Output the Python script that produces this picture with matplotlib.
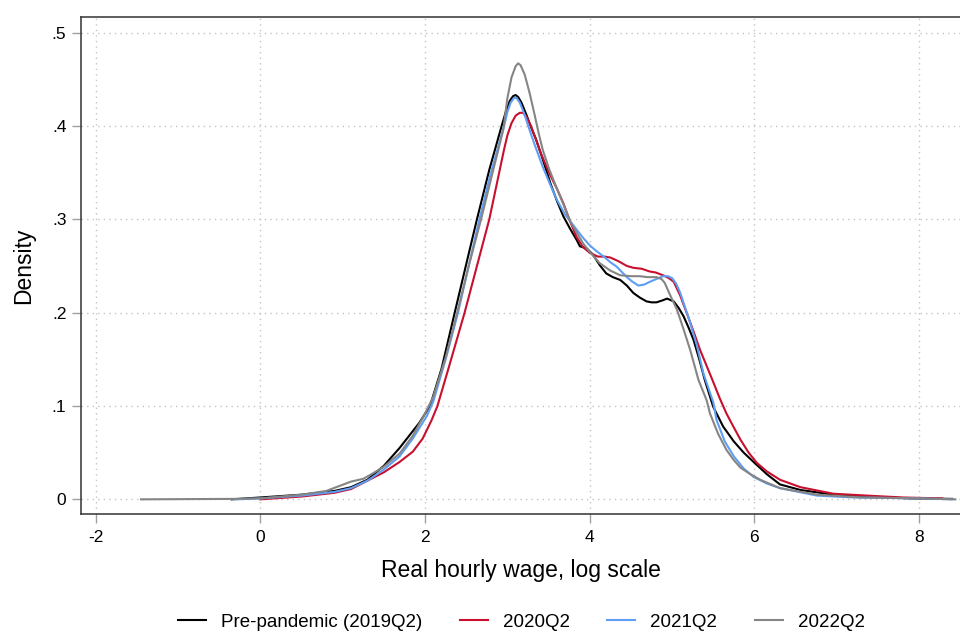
import matplotlib
matplotlib.use("Agg")
import matplotlib.pyplot as plt

plt.rcParams['font.family'] = ['Liberation Sans', 'DejaVu Sans']

# ---- data ----
series_names = ["Pre-pandemic (2019Q2)", "2020Q2", "2021Q2", "2022Q2"]
series_colors = ["#000000", "#c8102e", "#5e9ef5", "#858585"]

pre_x = [-0.35, 0.0, 0.5, 0.9, 1.1, 1.3, 1.5, 1.69, 1.93, 2.06, 2.2, 2.36, 2.5, 2.63, 2.78, 2.93, 2.98, 3.03, 3.07,
         3.1, 3.13, 3.17, 3.23, 3.29, 3.35, 3.43, 3.52, 3.6, 3.68, 3.76, 3.84, 3.88, 3.96, 4.04, 4.12, 4.2, 4.28, 4.37,
         4.45, 4.53, 4.61, 4.69, 4.75, 4.81, 4.88, 4.94, 5.02, 5.08, 5.14, 5.2, 5.26, 5.33, 5.4, 5.5, 5.62, 5.75, 5.87,
         5.99, 6.15, 6.31, 6.56, 6.96, 7.37, 7.9, 8.4]
pre_y = [0.0, 0.002, 0.005, 0.009, 0.013, 0.021, 0.036, 0.055, 0.082, 0.1, 0.14, 0.2, 0.252, 0.3, 0.353, 0.40, 0.415,
         0.427, 0.432, 0.433, 0.431, 0.425, 0.412, 0.398, 0.385, 0.364, 0.339, 0.32, 0.303, 0.29, 0.278, 0.271, 0.269,
         0.262, 0.251, 0.242, 0.238, 0.235, 0.229, 0.221, 0.216, 0.212, 0.211, 0.211, 0.213, 0.215, 0.212, 0.205,
         0.196, 0.184, 0.171, 0.15, 0.127, 0.099, 0.078, 0.062, 0.05, 0.04, 0.027, 0.016, 0.01, 0.005, 0.003, 0.001,
         0.0005]

q20_x = [0.0, 0.5, 0.9, 1.1, 1.3, 1.5, 1.69, 1.85, 1.97, 2.08, 2.15, 2.3, 2.48, 2.63, 2.78, 2.9, 2.96, 3.0, 3.05, 3.1,
         3.15, 3.19, 3.23, 3.28, 3.34, 3.4, 3.51, 3.6, 3.68, 3.76, 3.84, 3.92, 4.0, 4.1, 4.18, 4.25, 4.35, 4.45, 4.53,
         4.63, 4.73, 4.8, 4.89, 4.96, 5.02, 5.1, 5.18, 5.26, 5.34, 5.48, 5.58, 5.66, 5.75, 5.83, 5.93, 6.03, 6.15, 6.31,
         6.56, 6.96, 7.37, 7.8, 8.28]
q20_y = [0.0, 0.003, 0.007, 0.011, 0.02, 0.029, 0.04, 0.051, 0.065, 0.085, 0.1, 0.145, 0.2, 0.25, 0.3, 0.35, 0.375,
         0.39, 0.403, 0.411, 0.414, 0.414, 0.41, 0.401, 0.387, 0.372, 0.349, 0.333, 0.317, 0.298, 0.281, 0.270, 0.264,
         0.26, 0.26, 0.259, 0.255, 0.25, 0.248, 0.247, 0.244, 0.243, 0.24, 0.237, 0.233, 0.218, 0.199, 0.18, 0.16,
         0.13, 0.108, 0.092, 0.077, 0.064, 0.05, 0.039, 0.03, 0.021, 0.013, 0.006, 0.004, 0.002, 0.001]

q21_x = [-0.3, 0.0, 0.5, 0.9, 1.1, 1.3, 1.5, 1.69, 1.85, 2.02, 2.1, 2.25, 2.40, 2.53, 2.66, 2.8, 2.96, 3.0, 3.04, 3.08,
         3.11, 3.15, 3.2, 3.26, 3.33, 3.43, 3.52, 3.6, 3.7, 3.84, 3.92, 4.0, 4.08, 4.17, 4.25, 4.33, 4.45, 4.52, 4.59,
         4.66, 4.73, 4.81, 4.89, 4.95, 5.0, 5.05, 5.1, 5.16, 5.22, 5.3, 5.38, 5.5, 5.54, 5.64, 5.75, 5.87, 5.99, 6.15,
         6.31, 6.76, 7.2, 8.0, 8.4]
q21_y = [0.0, 0.001, 0.004, 0.008, 0.012, 0.02, 0.032, 0.046, 0.065, 0.089, 0.105, 0.15, 0.2, 0.25, 0.3, 0.35, 0.40,
         0.415, 0.425, 0.43, 0.43, 0.425, 0.414, 0.398, 0.38, 0.356, 0.337, 0.321, 0.305, 0.289, 0.280, 0.272, 0.266,
         0.260, 0.254, 0.249, 0.238, 0.233, 0.229, 0.230, 0.233, 0.236, 0.239, 0.239, 0.237, 0.231, 0.221, 0.205,
         0.189, 0.165, 0.135, 0.104, 0.085, 0.062, 0.046, 0.033, 0.024, 0.017, 0.012, 0.004, 0.002, 0.001, 0.0]

q22_x = [-1.45, -0.3, 0.0, 0.5, 0.8, 0.95, 1.1, 1.25, 1.35, 1.5, 1.69, 1.85, 2.0, 2.1, 2.25, 2.39, 2.53, 2.68, 2.82,
         2.95, 3.0, 3.05, 3.1, 3.13, 3.16, 3.21, 3.27, 3.33, 3.38, 3.43, 3.51, 3.6, 3.68, 3.76, 3.84, 3.92, 4.0, 4.12,
         4.25, 4.37, 4.5, 4.61, 4.7, 4.81, 4.87, 4.91, 4.97, 5.06, 5.14, 5.22, 5.32, 5.42, 5.46, 5.56, 5.66, 5.75, 5.83,
         5.95, 6.07, 6.31, 6.76, 7.3, 8.0, 8.44]
q22_y = [0.0, 0.0005, 0.001, 0.005, 0.009, 0.014, 0.019, 0.022, 0.027, 0.035, 0.049, 0.068, 0.092, 0.11, 0.152, 0.2,
         0.25, 0.3, 0.35, 0.396, 0.43, 0.452, 0.464, 0.467, 0.465, 0.455, 0.435, 0.412, 0.392, 0.374, 0.353, 0.333,
         0.316, 0.298, 0.286, 0.274, 0.265, 0.253, 0.245, 0.240, 0.239, 0.239, 0.238, 0.238, 0.236, 0.232, 0.22, 0.203,
         0.182, 0.160, 0.128, 0.106, 0.092, 0.07, 0.053, 0.042, 0.034, 0.027, 0.021, 0.012, 0.005, 0.002, 0.001, 0.0]

x_ticks = [-2, 0, 2, 4, 6, 8]
x_tick_labels = ["-2", "0", "2", "4", "6", "8"]
y_ticks = [0, 0.1, 0.2, 0.3, 0.4, 0.5]
y_tick_labels = ["0", ".1", ".2", ".3", ".4", ".5"]

x_label = "Real hourly wage, log scale"
y_label = "Density"

# ---- figure ----
fig = plt.figure(figsize=(9.6, 6.33), dpi=100)
ax = fig.add_axes([0.0844, 0.188, 0.9156, 0.7851])

all_x = [pre_x, q20_x, q21_x, q22_x]
all_y = [pre_y, q20_y, q21_y, q22_y]
for xs, ys, c, n in zip(all_x, all_y, series_colors, series_names):
    ax.plot(xs, ys, color=c, lw=1.5, label=n, solid_joinstyle='round')

ax.set_xlim(-2.179, 8.497)
ax.set_ylim(-0.0157, 0.5166)

ax.set_xticks(x_ticks)
ax.set_xticklabels(x_tick_labels)
ax.set_yticks(y_ticks)
ax.set_yticklabels(y_tick_labels)

ax.grid(True, color="#c4c4c4", lw=1.0, linestyle=(0, (1, 3)))
ax.set_axisbelow(True)

for s in ["left", "top", "bottom"]:
    ax.spines[s].set_color("#333333")
    ax.spines[s].set_linewidth(1.1)
ax.spines["right"].set_visible(False)

ax.tick_params(axis="both", which="major", direction="out", length=6.5, width=1.0,
               color="#a0a0a0", labelsize=12.5, labelcolor="black")
ax.tick_params(axis="x", pad=5)
ax.tick_params(axis="y", pad=4)

ax.set_xlabel(x_label, fontsize=16.5, labelpad=10)
ax.set_ylabel(y_label, fontsize=16.5, labelpad=12)

fig.legend(loc="center", bbox_to_anchor=(0.543, 0.017), ncol=4, frameon=False,
           fontsize=13.5, handlelength=1.5, handletextpad=0.8, columnspacing=2.0)

fig.savefig("out.png", dpi=100)
